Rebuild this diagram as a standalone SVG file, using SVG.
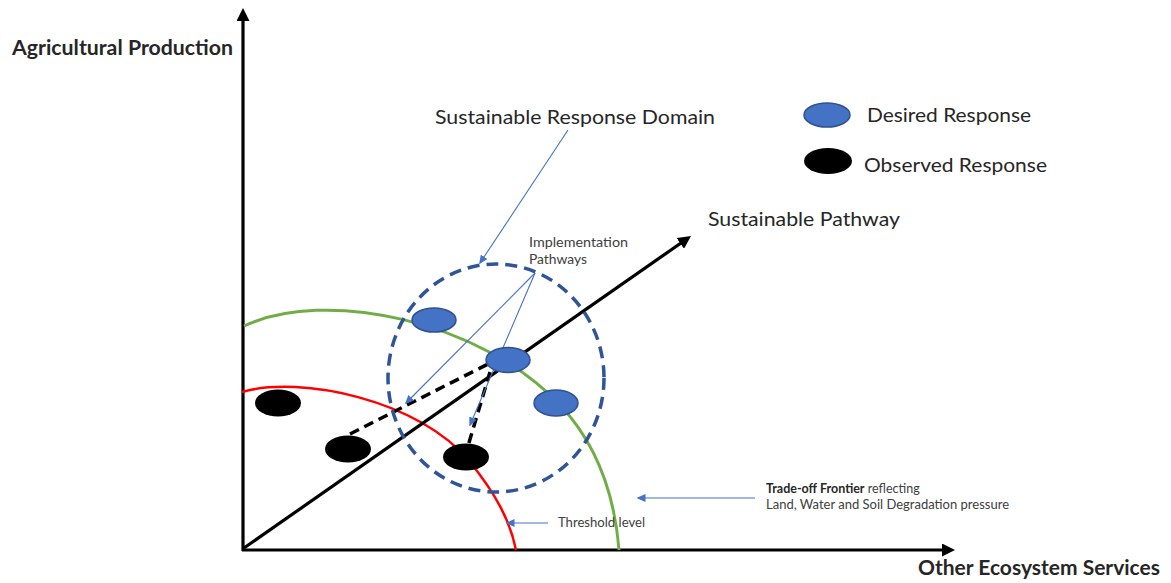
<svg xmlns="http://www.w3.org/2000/svg" width="1171" height="583" viewBox="0 0 1171 583">
  <style>
    .lbl { font-family: Lato, "Open Sans", "Liberation Sans", sans-serif; fill: #262626; }
    .big { font-size: 20px; }
    .axis { font-size: 20px; font-weight: bold; }
    .small { font-size: 12.5px; fill: #404040; }
    .desired { fill: #4472C4; stroke: #2F528F; stroke-width: 1.5; }
    .observed { fill: #000000; }
    .callout { stroke: #4472C4; stroke-width: 1.1; fill: none; marker-end: url(#headBlue); }
    .thick { stroke: #000; stroke-width: 3.2; fill: none; }
    .dash { stroke: #000; stroke-width: 3.5; fill: none; stroke-dasharray: 10 6; }
  </style>
  <defs>
    <marker id="headBlack" markerUnits="userSpaceOnUse" markerWidth="14" markerHeight="13" refX="3" refY="6.5" orient="auto">
      <path d="M0,0 L13,6.5 L0,13 z" fill="#000"/>
    </marker>
    <marker id="headBlue" markerUnits="userSpaceOnUse" markerWidth="9" markerHeight="8" refX="7.5" refY="4" orient="auto">
      <path d="M0,0 L9,4 L0,8 z" fill="#4472C4"/>
    </marker>
  </defs>

  <rect width="1171" height="583" fill="#ffffff"/>

  <!-- axes -->
  <g id="axes">
    <line class="thick" x1="243" y1="551" x2="243" y2="18" marker-end="url(#headBlack)"/>
    <line class="thick" x1="242" y1="550" x2="945" y2="550" marker-end="url(#headBlack)"/>
    <text class="lbl axis" x="12" y="55" textLength="221" lengthAdjust="spacingAndGlyphs">Agricultural Production</text>
    <text class="lbl axis" x="918" y="575" textLength="242" lengthAdjust="spacingAndGlyphs">Other Ecosystem Services</text>
  </g>

  <!-- frontier curves -->
  <g id="tradeoff-frontier">
    <path d="M244,326 C325,288 480,320 560,405 C600,447.5 615,500 619,550" fill="none" stroke="#70AD47" stroke-width="3"/>
  </g>
  <g id="threshold">
    <path d="M242,392 C300,375 420,400 470,462 C495,493 510,520 516,550" fill="none" stroke="#FF0000" stroke-width="2.5"/>
  </g>

  <!-- sustainable pathway -->
  <g id="sustainable-pathway">
    <line class="thick" x1="244" y1="548" x2="682.8" y2="241.7" marker-end="url(#headBlack)"/>
    <text class="lbl big" x="708" y="226" textLength="192" lengthAdjust="spacingAndGlyphs">Sustainable Pathway</text>
  </g>

  <!-- connectors -->
  <g id="connectors">
    <line class="dash" x1="350" y1="434" x2="492" y2="362"/>
    <line class="dash" x1="490" y1="372" x2="468" y2="446"/>
    <line class="callout" x1="568" y1="130" x2="480" y2="263"/>
    <line class="callout" x1="535" y1="273" x2="406" y2="403"/>
    <line class="callout" x1="535" y1="273" x2="470" y2="425"/>
    <line class="callout" x1="755" y1="498" x2="638" y2="498"/>
    <line class="callout" x1="548" y1="523" x2="507" y2="523"/>
  </g>

  <!-- response domain -->
  <g id="response-domain">
    <ellipse cx="496" cy="378" rx="108" ry="114" fill="none" stroke="#2F5597" stroke-width="3.5" stroke-dasharray="12 7"/>
    <text class="lbl big" x="435" y="124" textLength="280" lengthAdjust="spacingAndGlyphs">Sustainable Response Domain</text>
  </g>

  <!-- responses -->
  <g id="desired-1"><ellipse class="desired" cx="434" cy="320" rx="22" ry="12"/></g>
  <g id="desired-2"><ellipse class="desired" cx="508" cy="360" rx="22" ry="12.5"/></g>
  <g id="desired-3"><ellipse class="desired" cx="556" cy="403" rx="22" ry="13"/></g>
  <g id="observed-1"><ellipse class="observed" cx="278" cy="403" rx="23" ry="13.5"/></g>
  <g id="observed-2"><ellipse class="observed" cx="348" cy="449" rx="23" ry="13.5"/></g>
  <g id="observed-3"><ellipse class="observed" cx="466" cy="457" rx="23" ry="13.5"/></g>

  <!-- labels -->
  <g id="implementation-label">
    <text class="lbl small" x="529" y="247" textLength="99" lengthAdjust="spacingAndGlyphs">Implementation</text>
    <text class="lbl small" x="529" y="264" textLength="58" lengthAdjust="spacingAndGlyphs">Pathways</text>
  </g>
  <g id="frontier-label">
    <text class="lbl small" x="766" y="493"><tspan font-weight="bold" fill="#262626">Trade-off Frontier</tspan> reflecting</text>
    <text class="lbl small" x="766" y="509" textLength="243" lengthAdjust="spacingAndGlyphs">Land, Water and Soil Degradation pressure</text>
  </g>
  <g id="threshold-label">
    <text class="lbl small" x="558" y="527" textLength="87" lengthAdjust="spacingAndGlyphs">Threshold level</text>
  </g>

  <!-- legend -->
  <g id="legend-desired">
    <ellipse class="desired" cx="827" cy="115" rx="23" ry="12"/>
    <text class="lbl big" x="867" y="122" textLength="164" lengthAdjust="spacingAndGlyphs">Desired Response</text>
  </g>
  <g id="legend-observed">
    <ellipse class="observed" cx="828" cy="161" rx="24" ry="13"/>
    <text class="lbl big" x="864" y="172" textLength="183" lengthAdjust="spacingAndGlyphs">Observed Response</text>
  </g>
</svg>
